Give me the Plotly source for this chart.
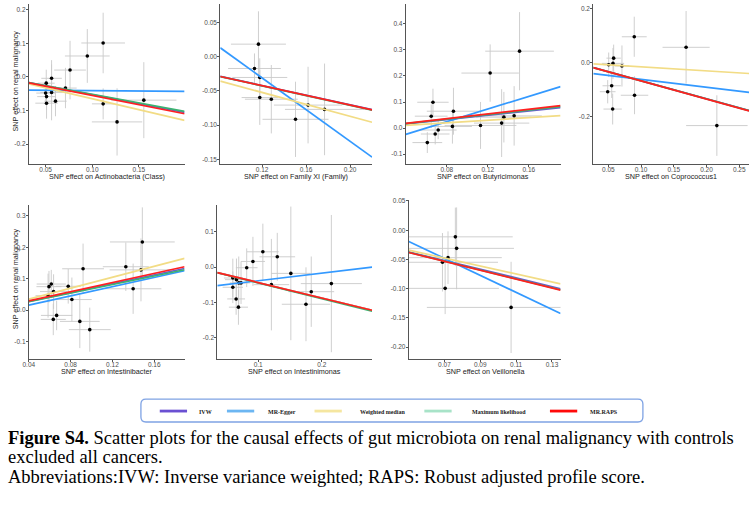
import plotly.graph_objects as go

W, H = 755, 505

# ---------------- data ----------------
# Panel 1: Actinobacteria (Class)
actino_x = [0.1117, 0.0947, 0.0762, 0.0564, 0.0507, 0.0713, 0.0500, 0.0564, 0.0510, 0.0606, 0.0510, 0.1117, 0.1266, 0.1553]
actino_y = [0.101, 0.0624, 0.0205, -0.004, -0.0185, -0.033, -0.048, -0.046, -0.0585, -0.072, -0.078, -0.080, -0.1337, -0.069]
actino_sex = [0.0234, 0.024, 0.017, 0.011, 0.009, 0.012, 0.010, 0.012, 0.010, 0.012, 0.012, 0.012, 0.027, 0.035]
actino_sey = [0.09, 0.08, 0.087, 0.054, 0.040, 0.060, 0.035, 0.083, 0.040, 0.045, 0.046, 0.046, 0.100, 0.113]
actino_slopes = [-0.53, -0.024, -0.65, -0.515, -0.55]   # IVW, MR-Egger, WM, ML, MR.RAPS
actino_egger_int = -0.0382

# Panel 2: Family XI (Family)
famxi_x = [0.1167, 0.1131, 0.1179, 0.1179, 0.1284, 0.1504, 0.1618, 0.1768]
famxi_y = [0.0183, -0.0173, -0.0304, -0.0598, -0.0622, -0.0916, -0.0708, -0.0771]
famxi_sex = [0.025, 0.024, 0.025, 0.0165, 0.024, 0.030, 0.031, 0.036]
famxi_sey = [0.048, 0.022, 0.028, 0.040, 0.050, 0.055, 0.056, 0.067]
famxi_slopes = [-0.352, -1.159, -0.436, -0.355, -0.354]
famxi_egger_int = 0.108

# Panel 3: Butyricimonas
butyr_x = [0.151, 0.1223, 0.0665, 0.0648, 0.0865, 0.0855, 0.0716, 0.0687, 0.061, 0.1129, 0.1335, 0.1357, 0.1457]
butyr_y = [0.295, 0.211, 0.099, 0.0456, 0.0646, 0.0063, -0.0076, -0.0228, -0.0557, 0.0101, 0.019, 0.0418, 0.0468]
butyr_sex = [0.0335, 0.028, 0.0153, 0.016, 0.026, 0.019, 0.018, 0.014, 0.0145, 0.035, 0.027, 0.027, 0.027]
butyr_sey = [0.15, 0.11, 0.052, 0.045, 0.09, 0.066, 0.035, 0.04, 0.04, 0.09, 0.13, 0.097, 0.114]
butyr_slopes = [0.41, 1.213, 0.25, 0.43, 0.45]
butyr_egger_int = -0.0725

# Panel 4: Coprococcus1
copro_x = [0.0896, 0.1688, 0.0581, 0.0571, 0.0505, 0.0708, 0.0551, 0.049, 0.090, 0.0566, 0.2158]
copro_y = [0.096, 0.057, 0.017, -0.0024, -0.0073, -0.012, -0.085, -0.107, -0.120, -0.171, -0.232]
copro_sex = [0.019, 0.036, 0.011, 0.017, 0.008, 0.011, 0.014, 0.012, 0.021, 0.014, 0.047]
copro_sey = [0.074, 0.134, 0.05, 0.057, 0.045, 0.076, 0.045, 0.043, 0.07, 0.057, 0.112]
copro_slopes = [-0.665, -0.2916, -0.15, -0.668, -0.67]
copro_egger_int = -0.032

# Panel 5: Intestinibacter
intb_x = [0.1486, 0.1328, 0.0919, 0.1473, 0.1398, 0.0615, 0.0593, 0.0637, 0.0777, 0.0584, 0.0812, 0.0666, 0.0634, 0.0888, 0.0983]
intb_y = [0.2168, 0.138, 0.1316, 0.128, 0.068, 0.083, 0.0747, 0.059, 0.0758, 0.046, 0.0337, -0.0168, -0.0295, -0.0358, -0.062]
intb_sex = [0.031, 0.022, 0.02, 0.03, 0.027, 0.014, 0.012, 0.013, 0.012, 0.012, 0.019, 0.015, 0.012, 0.019, 0.02]
intb_sey = [0.11, 0.077, 0.08, 0.10, 0.08, 0.045, 0.05, 0.055, 0.055, 0.07, 0.07, 0.047, 0.05, 0.085, 0.07]
intb_slopes = [0.70, 0.734, 0.87, 0.68, 0.73]
intb_egger_int = -0.0136

# Panel 6: Intestinimonas
intm_x = [0.1073, 0.130, 0.0917, 0.0819, 0.1513, 0.215, 0.1207, 0.0601, 0.0658, 0.0694, 0.0601, 0.0653, 0.0689, 0.1834, 0.1751, 0.073]
intm_y = [0.0434, 0.0292, 0.016, -0.0019, -0.018, -0.047, -0.050, -0.0311, -0.0358, -0.045, -0.0575, -0.0906, -0.114, -0.070, -0.1057, -0.045]
intm_sex = [0.025, 0.028, 0.019, 0.017, 0.031, 0.048, 0.028, 0.014, 0.018, 0.014, 0.016, 0.014, 0.015, 0.036, 0.038, 0.014]
intm_sey = [0.08, 0.068, 0.07, 0.055, 0.19, 0.195, 0.13, 0.055, 0.06, 0.075, 0.045, 0.045, 0.05, 0.10, 0.105, 0.06]
intm_slopes = [-0.44, 0.217, -0.44, -0.45, -0.44]
intm_egger_int = -0.0606

# Panel 7: Veillonella
veil_x = [0.0761, 0.0768, 0.072, 0.0689, 0.0704, 0.1072]
veil_y = [-0.0113, -0.031, -0.0469, -0.0548, -0.0994, -0.132]
veil_sex = [0.032, 0.032, 0.030, 0.031, 0.030, 0.047]
veil_sey = [0.05, 0.07, 0.045, 0.05, 0.044, 0.078]
veil_slopes = [-0.742, -1.455, -0.68, -0.755, -0.76]
veil_egger_int = 0.0537

exposures = ["Actinobacteria (Class)", "Family XI (Family)", "Butyricimonas", "Coprococcus1",
             "Intestinibacter", "Intestinimonas", "Veillonella"]

methods = ["IVW", "MR-Egger", "Weighted median", "Maximum likelihood", "MR.RAPS"]
line_colors = ["#6A5ACD", "#3399FF", "#F2DC85", "#3CB371", "#FF2020"]
legend_colors = ["#6A50D2", "#6CB6F2", "#F5E6A0", "#A8E3C8", "#FF0A0A"]

# tick values per panel
xticks = [[0.05, 0.10, 0.15], [0.12, 0.16, 0.20], [0.08, 0.12, 0.16], [0.05, 0.10, 0.15, 0.20, 0.25],
          [0.04, 0.08, 0.12, 0.16], [0.1, 0.2], [0.07, 0.09, 0.11, 0.13]]
xticktext = [["0.05", "0.10", "0.15"], ["0.12", "0.16", "0.20"], ["0.08", "0.12", "0.16"],
             ["0.05", "0.10", "0.15", "0.20", "0.25"], ["0.04", "0.08", "0.12", "0.16"],
             ["0.1", "0.2"], ["0.07", "0.09", "0.11", "0.13"]]
yticks = [[-0.2, -0.1, 0.0, 0.1, 0.2], [-0.15, -0.10, -0.05, 0.0, 0.05], [-0.1, 0.0, 0.1, 0.2, 0.3, 0.4],
          [-0.2, 0.0, 0.2], [-0.1, 0.0, 0.1, 0.2, 0.3], [-0.2, -0.1, 0.0, 0.1],
          [-0.20, -0.15, -0.10, -0.05, 0.0, 0.05]]
yticktext = [["-0.2", "-0.1", "0.0", "0.1", "0.2"], ["-0.15", "-0.10", "-0.05", "0.00", "0.05"],
             ["-0.1", "0.0", "0.1", "0.2", "0.3", "0.4"], ["-0.2", "0.0", "0.2"],
             ["-0.1", "0.0", "0.1", "0.2", "0.3"], ["-0.2", "-0.1", "0.0", "0.1"],
             ["-0.20", "-0.15", "-0.10", "-0.05", "0.00", "0.05"]]

panels = [
    (actino_x, actino_y, actino_sex, actino_sey, actino_slopes, actino_egger_int),
    (famxi_x, famxi_y, famxi_sex, famxi_sey, famxi_slopes, famxi_egger_int),
    (butyr_x, butyr_y, butyr_sex, butyr_sey, butyr_slopes, butyr_egger_int),
    (copro_x, copro_y, copro_sex, copro_sey, copro_slopes, copro_egger_int),
    (intb_x, intb_y, intb_sex, intb_sey, intb_slopes, intb_egger_int),
    (intm_x, intm_y, intm_sex, intm_sey, intm_slopes, intm_egger_int),
    (veil_x, veil_y, veil_sex, veil_sey, veil_slopes, veil_egger_int),
]

# ---------------- layout geometry (pixels) ----------------
boxes = [  # left, right, top, bottom
    (23, 180, 1, 162), (216, 369, 1, 162), (403, 559, 1, 162), (592, 749, 1, 162),
    (23, 180, 203, 358), (213, 369, 203, 358), (406, 559, 198, 358),
]
xranges = [[0.032, 0.199], [0.082, 0.220], [0.040, 0.191], [0.027, 0.265],
           [0.040, 0.189], [0.0357, 0.279], [0.0501, 0.1348]]
yranges = [[-0.259, 0.217], [-0.157, 0.077], [-0.138, 0.476], [-0.374, 0.217],
           [-0.155, 0.335], [-0.261, 0.177], [-0.220, 0.052]]

fig = go.Figure()
layout = dict(width=W, height=H, margin=dict(l=0, r=0, t=0, b=0),
              paper_bgcolor="white", plot_bgcolor="white", showlegend=False)
annotations = []
shapes = []

tick_font = dict(family="Liberation Sans, Arial, sans-serif", size=6.5, color="#4D4D4D")
title_font = dict(family="Liberation Sans, Arial, sans-serif", size=7.2, color="#222222")

for i, (bx, by, sx, sy, slopes, eint) in enumerate(panels):
    k = "" if i == 0 else str(i + 1)
    xa, ya = "x" + k, "y" + k
    l, r, t, b = boxes[i]
    axis_common = dict(showgrid=False, zeroline=False, showline=True, linecolor="#555555", linewidth=1,
                       ticks="outside", ticklen=2, tickwidth=1, tickcolor="#555555",
                       tickfont=tick_font, fixedrange=True)
    layout["xaxis" + k] = dict(domain=[l / W, r / W], range=xranges[i], anchor=ya,
                               tickvals=xticks[i], ticktext=xticktext[i],
                               ticklabelstandoff=-3, **axis_common)
    layout["yaxis" + k] = dict(domain=[1 - b / H, 1 - t / H], range=yranges[i], anchor=xa,
                               tickvals=yticks[i], ticktext=yticktext[i],
                               ticklabelstandoff=-1, **axis_common)
    # points with error bars
    fig.add_trace(go.Scatter(
        x=bx, y=by, mode="markers", xaxis=xa, yaxis=ya,
        marker=dict(color="black", size=3.6),
        error_x=dict(type="data", array=sx, visible=True, color="#CACACA", thickness=0.9, width=0),
        error_y=dict(type="data", array=sy, visible=True, color="#CACACA", thickness=0.9, width=0),
        cliponaxis=True,
    ))
    # regression lines
    x0, x1 = xranges[i]
    for m in range(5):
        icpt = eint if m == 1 else 0.0
        fig.add_trace(go.Scatter(
            x=[x0, x1], y=[icpt + slopes[m] * x0, icpt + slopes[m] * x1],
            mode="lines", xaxis=xa, yaxis=ya,
            line=dict(color=line_colors[m], width=1.7), hoverinfo="skip",
        ))
    # x-axis title
    annotations.append(dict(text="SNP effect on " + exposures[i], xref="paper", yref="paper",
                            x=(l + r) / 2 / W, y=1 - (b + 12.5) / H, showarrow=False,
                            font=title_font, xanchor="center", yanchor="middle"))

# y-axis titles
for (t, b) in [(1, 162), (203, 358)]:
    annotations.append(dict(text="SNP effect on renal malignancy", xref="paper", yref="paper",
                            x=9.5 / W, y=1 - ((t + b) / 2 - 3) / H, textangle=-90, showarrow=False,
                            font=title_font, xanchor="center", yanchor="middle"))

# legend box (rounded)
lx0, lx1, ly0, ly1, rad = 136, 642, 398.5, 421.5, 5
def P(px, py):
    return f"{px / W:.5f},{1 - py / H:.5f}"
path = (f"M {P(lx0 + rad, ly0)} L {P(lx1 - rad, ly0)} Q {P(lx1, ly0)} {P(lx1, ly0 + rad)} "
        f"L {P(lx1, ly1 - rad)} Q {P(lx1, ly1)} {P(lx1 - rad, ly1)} L {P(lx0 + rad, ly1)} "
        f"Q {P(lx0, ly1)} {P(lx0, ly1 - rad)} L {P(lx0, ly0 + rad)} Q {P(lx0, ly0)} {P(lx0 + rad, ly0)} Z")
shapes.append(dict(type="path", path=path, xref="paper", yref="paper",
                   line=dict(color="#7FA3E4", width=1.3), fillcolor="rgba(0,0,0,0)"))
leg_line_x = [155, 222.7, 311, 421.7, 548.3]
leg_text_x = [192.7, 261.7, 355, 467.7, 586.7]
leg_y = 410.5
for m in range(5):
    shapes.append(dict(type="line", xref="paper", yref="paper",
                       x0=leg_line_x[m] / W, x1=(leg_line_x[m] + 27.5) / W,
                       y0=1 - leg_y / H, y1=1 - leg_y / H,
                       line=dict(color=legend_colors[m], width=2.8)))
    annotations.append(dict(text="<b>" + methods[m] + "</b>", xref="paper", yref="paper",
                            x=leg_text_x[m] / W, y=1 - (leg_y + 1) / H, showarrow=False,
                            xanchor="left", yanchor="middle",
                            font=dict(family="Liberation Serif, Times New Roman, serif", size=6, color="#222222")))

# caption
cap_font = dict(family="Liberation Serif, Times New Roman, serif", size=18.5, color="black")
cap_lines = [
    "<b>Figure S4.</b> Scatter plots for the causal effects of gut microbiota on renal malignancy with controls",
    "excluded all cancers.",
    "Abbreviations:IVW: Inverse variance weighted; RAPS: Robust adjusted profile score.",
]
cap_y = [437.5, 457, 476.5]
for txt, cy in zip(cap_lines, cap_y):
    annotations.append(dict(text=txt, xref="paper", yref="paper", x=0, y=1 - cy / H,
                            showarrow=False, xanchor="left", yanchor="middle", font=cap_font))

layout["annotations"] = annotations
layout["shapes"] = shapes
fig.update_layout(**layout)
fig.write_html("out.html", config={"displayModeBar": False},
               post_script="document.body.style.margin='0px';document.body.style.overflow='hidden';")
